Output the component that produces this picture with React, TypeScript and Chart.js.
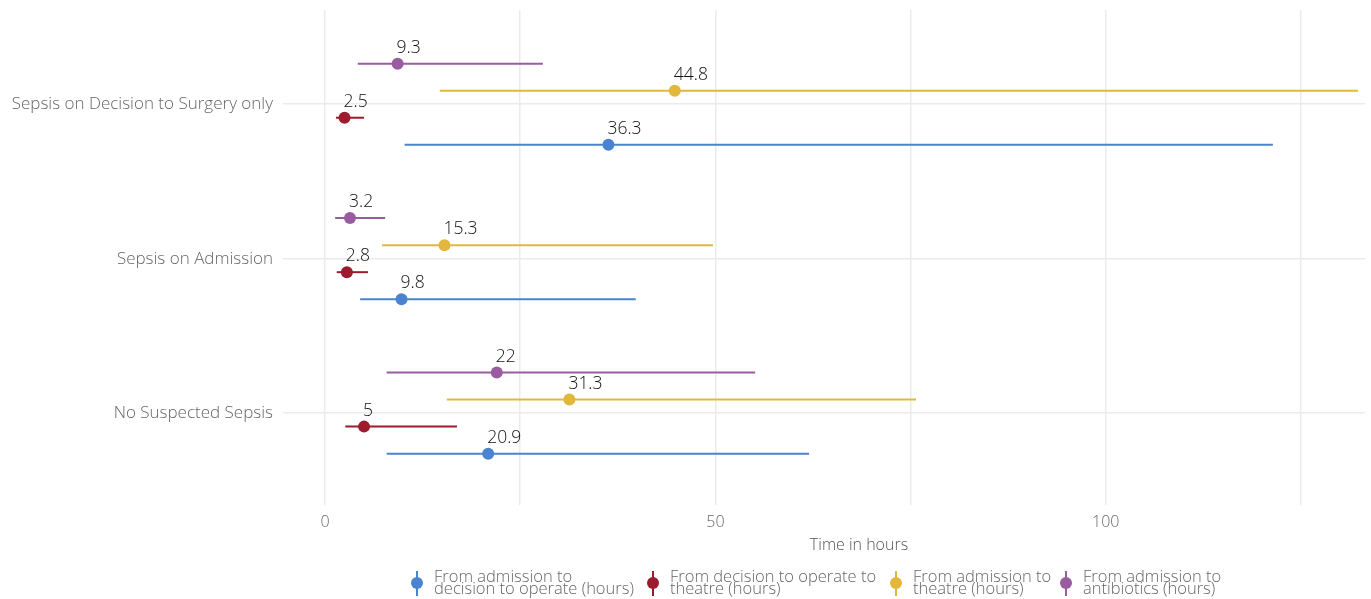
import React, { useEffect, useRef } from 'react';
import { Chart, registerables } from 'chart.js';

Chart.register(...registerables);

// Categories (bottom to top)
const categories = ['No Suspected Sepsis', 'Sepsis on Admission', 'Sepsis on Decision to Surgery only'];

// Series (drawn bottom to top within each category)
const seriesNames = [
  ['From admission to', 'decision to operate (hours)'],
  ['From decision to operate to', 'theatre (hours)'],
  ['From admission to', 'theatre (hours)'],
  ['From admission to', 'antibiotics (hours)'],
];
const seriesColors = ['#4a84cf', '#9c1b2c', '#e3b73c', '#9a5ca0'];

// medians / lower / upper per category (No Suspected, Admission, Decision)
const admToDecisionMedian = [20.9, 9.8, 36.3];
const admToDecisionLow = [7.9, 4.5, 10.2];
const admToDecisionHigh = [62.0, 39.8, 121.4];

const decisionToTheatreMedian = [5, 2.8, 2.5];
const decisionToTheatreLow = [2.6, 1.5, 1.4];
const decisionToTheatreHigh = [16.9, 5.5, 5.0];

const admToTheatreMedian = [31.3, 15.3, 44.8];
const admToTheatreLow = [15.6, 7.3, 14.7];
const admToTheatreHigh = [75.7, 49.7, 132.3];

const admToAntibioticsMedian = [22, 3.2, 9.3];
const admToAntibioticsLow = [7.9, 1.3, 4.2];
const admToAntibioticsHigh = [55.1, 7.7, 27.9];

const xTicks = [0, 25, 50, 75, 100, 125];
const xTickLabels = ['0', '', '50', '', '100', ''];

const medians = [admToDecisionMedian, decisionToTheatreMedian, admToTheatreMedian, admToAntibioticsMedian];
const lows = [admToDecisionLow, decisionToTheatreLow, admToTheatreLow, admToAntibioticsLow];
const highs = [admToDecisionHigh, decisionToTheatreHigh, admToTheatreHigh, admToAntibioticsHigh];

const FONT = '"Open Sans", Lato, sans-serif';
const dodge = 0.175;

function yPos(catIdx: number, seriesIdx: number) {
  return catIdx + 1 + (seriesIdx - 1.5) * dodge;
}

export default function App() {
  const ref = useRef<HTMLCanvasElement | null>(null);

  useEffect(() => {
    document.body.style.margin = '0';
    const canvas = ref.current;
    if (!canvas) return;

    const datasets = medians.map((arr, s) => ({
      label: seriesNames[s].join(' '),
      data: arr.map((v, c) => ({ x: v, y: yPos(c, s), lo: lows[s][c], hi: highs[s][c] })),
      backgroundColor: seriesColors[s],
      borderColor: seriesColors[s],
      pointRadius: 6,
      pointHoverRadius: 6,
      pointBorderWidth: 0,
    }));

    const whiskers = {
      id: 'whiskers',
      beforeDatasetsDraw(chart: any) {
        const { ctx, scales } = chart;
        ctx.save();
        chart.data.datasets.forEach((ds: any) => {
          ctx.strokeStyle = ds.borderColor;
          ctx.lineWidth = 2;
          ds.data.forEach((p: any) => {
            const y = scales.y.getPixelForValue(p.y);
            ctx.beginPath();
            ctx.moveTo(scales.x.getPixelForValue(p.lo), y);
            ctx.lineTo(scales.x.getPixelForValue(p.hi), y);
            ctx.stroke();
          });
        });
        ctx.restore();
      },
      afterDatasetsDraw(chart: any) {
        const { ctx, scales } = chart;
        ctx.save();
        ctx.font = `300 17.5px ${FONT}`;
        ctx.fillStyle = '#111';
        ctx.textAlign = 'left';
        ctx.textBaseline = 'alphabetic';
        chart.data.datasets.forEach((ds: any) => {
          ds.data.forEach((p: any) => {
            const x = scales.x.getPixelForValue(p.x);
            const y = scales.y.getPixelForValue(p.y);
            ctx.fillText(String(p.x), x - 1, y - 11);
          });
        });
        ctx.restore();
      },
      afterDraw(chart: any) {
        const { ctx } = chart;
        ctx.save();
        ctx.font = `300 16px ${FONT}`;
        ctx.fillStyle = '#555';
        ctx.textAlign = 'center';
        ctx.textBaseline = 'middle';
        ctx.fillText('Time in hours', 859, 545);
        const iconX = [417, 653, 896, 1066];
        ctx.textAlign = 'left';
        ctx.font = `300 16.5px ${FONT}`;
        seriesNames.forEach((lines, i) => {
          const cx = iconX[i];
          ctx.strokeStyle = seriesColors[i];
          ctx.lineWidth = 2;
          ctx.beginPath();
          ctx.moveTo(cx, 571);
          ctx.lineTo(cx, 596);
          ctx.stroke();
          ctx.fillStyle = seriesColors[i];
          ctx.beginPath();
          ctx.arc(cx, 583, 6, 0, Math.PI * 2);
          ctx.fill();
          ctx.fillStyle = '#666';
          ctx.fillText(lines[0], cx + 17, 577);
          ctx.fillText(lines[1], cx + 17, 589);
        });
        ctx.restore();
      },
    };

    const chart = new Chart(canvas, {
      type: 'scatter',
      data: { datasets: datasets as any },
      plugins: [whiskers],
      options: {
        animation: false,
        responsive: false,
        maintainAspectRatio: false,
        layout: { padding: { top: 10, right: 6, left: 0, bottom: 0 } },
        plugins: {
          legend: { display: false },
          tooltip: { enabled: false },
        },
        scales: {
          x: {
            type: 'linear',
            min: -5.38,
            max: 133.2,
            afterBuildTicks: (axis: any) => {
              axis.ticks = xTicks.map((v) => ({ value: v }));
            },
            afterFit: (scale: any) => {
              scale.height = 94;
              scale.paddingLeft = 0;
              scale.paddingRight = 0;
            },
            ticks: {
              callback: (_v: any, i: number) => xTickLabels[i],
              color: '#666',
              font: { family: FONT, size: 16, weight: '300' },
              padding: 8,
              maxRotation: 0,
              autoSkip: false,
            },
            grid: { color: '#ebebeb', lineWidth: 1.5, drawTicks: false },
            border: { display: false },
          },
          y: {
            type: 'linear',
            min: 0.405,
            max: 3.61,
            afterBuildTicks: (axis: any) => {
              axis.ticks = categories.map((_c, i) => ({ value: i + 1 }));
            },
            afterFit: (scale: any) => {
              scale.width = 283;
              scale.paddingTop = 0;
              scale.paddingBottom = 0;
            },
            ticks: {
              callback: (_v: any, i: number) => categories[i],
              color: '#666',
              font: { family: FONT, size: 17, weight: '300' },
              padding: 10,
              autoSkip: false,
            },
            grid: { color: '#ebebeb', lineWidth: 1.5, drawTicks: false },
            border: { display: false },
          },
        },
      },
    });
    return () => chart.destroy();
  }, []);

  return (
    <div style={{ position: 'relative', width: 1371, height: 599 }}>
      <canvas ref={ref} width={1371} height={599} style={{ width: 1371, height: 599, display: 'block' }} />
    </div>
  );
}
